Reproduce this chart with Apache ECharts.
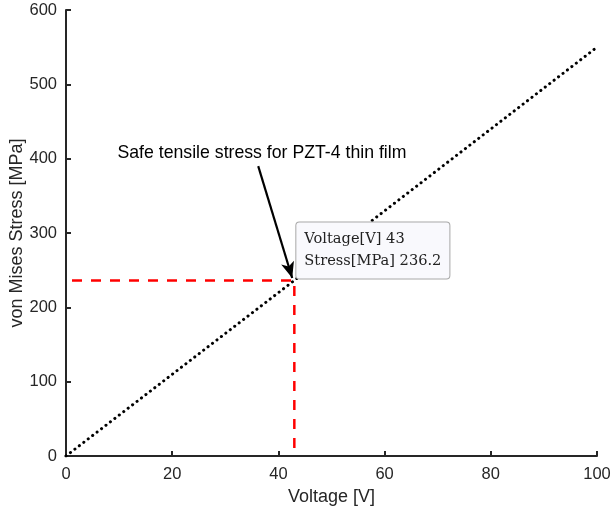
<!DOCTYPE html>
<html><head><meta charset="utf-8">
<script src="https://cdn.jsdelivr.net/npm/echarts@6/dist/echarts.min.js"></script>
<style>html,body{margin:0;padding:0;background:#fff}#c{width:613px;height:516px}</style>
</head><body><div id="c"></div>
<script>
const voltage = [0, 43, 100];
const stress = [0, 236.2, 550];
const xTicks = [0, 20, 40, 60, 80, 100];
const yTicks = [0, 100, 200, 300, 400, 500, 600];
const safeV = 43, safeS = 236.2;
const noteText = 'Safe tensile stress for PZT-4 thin film';
const arrowFrom = [36.2, 390], arrowTo = [42.6, 239.5];
const notePos = [36.9, 407];

const chart = echarts.init(document.getElementById('c'));
const axisCommon = {
  axisLine: {show: true, lineStyle: {color: '#262626', width: 2}},
  axisTick: {show: true, inside: true, length: 5, lineStyle: {color: '#262626', width: 2}},
  splitLine: {show: false},
  axisLabel: {color: '#262626', fontSize: 16.5, fontFamily: 'Liberation Sans'},
  nameTextStyle: {color: '#262626', fontSize: 18, fontFamily: 'Liberation Sans'},
  nameLocation: 'middle',
  nameMoveOverlap: false
};
chart.setOption({
  animation: false,
  grid: {left: 66, right: 16, top: 10, bottom: 60, containLabel: false, outerBoundsMode: 'none'},
  xAxis: Object.assign({}, axisCommon, {type: 'value', min: 0, max: 100, interval: 20, name: 'Voltage [V]', nameGap: 32,
    axisLabel: Object.assign({}, axisCommon.axisLabel, {margin: 10})}),
  yAxis: Object.assign({}, axisCommon, {type: 'value', min: 0, max: 600, interval: 100, name: 'von Mises Stress [MPa]', nameGap: 40,
    axisLabel: Object.assign({}, axisCommon.axisLabel, {margin: 9})}),
  series: [
    {
      type: 'line', data: voltage.map((v, i) => [v, stress[i]]), symbol: 'none',
      lineStyle: {color: '#000', width: 3, type: [0.1, 5.5], cap: 'round'}, z: 2
    },
    {
      type: 'line', data: [[0, safeS], [safeV, safeS], [safeV, 0]], symbol: 'none',
      lineStyle: {color: '#ff0000', width: 2.5, type: [10, 9], dashOffset: 13}, z: 3,
      markLine: {
        silent: true, symbol: ['none', 'arrow'], symbolSize: [10, 16],
        lineStyle: {color: '#000', width: 2.2, type: 'solid'},
        label: {show: false},
        data: [[{coord: arrowFrom}, {coord: arrowTo}]]
      },
      markPoint: {
        silent: true,
        data: [
          {coord: notePos, symbol: 'circle', symbolSize: 0,
            label: {show: true, position: 'inside', formatter: noteText, color: '#000', fontSize: 17.7, fontFamily: 'Liberation Sans'}},
          {coord: [safeV, safeS], symbol: 'circle', symbolSize: 0,
            label: {show: true, position: [2, -58], align: 'left', verticalAlign: 'top',
              formatter: 'Voltage[V] ' + safeV + '\nStress[MPa] ' + safeS,
              color: '#222', fontSize: 14.6, lineHeight: 22, fontFamily: 'DejaVu Serif',
              backgroundColor: '#f9f9fd', borderColor: '#a8a8a8', borderWidth: 1, borderRadius: 3,
              padding: [6, 8, 6, 8]}}
        ]
      }
    }
  ]
});
</script></body></html>
